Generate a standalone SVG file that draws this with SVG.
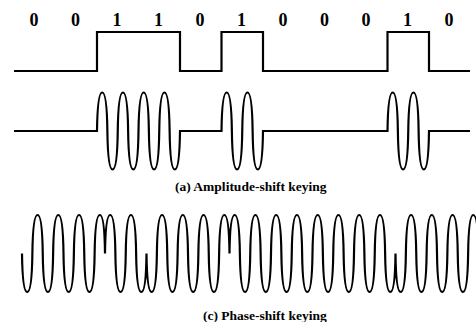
<svg xmlns="http://www.w3.org/2000/svg" width="476" height="322" viewBox="0 0 476 322">
<style>
.bit{font-family:"Liberation Serif","Times New Roman",serif;font-weight:bold;font-size:18px;text-anchor:middle;fill:#000}
.cap{font-family:"Liberation Serif","Times New Roman",serif;font-weight:bold;font-size:13.5px;fill:#000}
.wave{fill:none;stroke:#000;stroke-width:2.2;stroke-linejoin:miter}
</style>
<rect width="476" height="322" fill="#fff"/>
<g id="bits">
<text class="bit" x="34" y="25.5">0</text>
<text class="bit" x="75.5" y="25.5">0</text>
<text class="bit" x="117" y="25.5">1</text>
<text class="bit" x="158.5" y="25.5">1</text>
<text class="bit" x="200" y="25.5">0</text>
<text class="bit" x="241.5" y="25.5">1</text>
<text class="bit" x="283" y="25.5">0</text>
<text class="bit" x="324.5" y="25.5">0</text>
<text class="bit" x="366" y="25.5">0</text>
<text class="bit" x="407.5" y="25.5">1</text>
<text class="bit" x="449" y="25.5">0</text>
</g>
<g id="waves">
<path id="digital" class="wave" d="M14,71 H97 V32 H180 V71 H221.5 V32 H263 V71 H387.5 V32 H429 V71 H470"/>
<path id="ask" class="wave" d="M14,131 H97
c0.3,-23.1 1.6,-38.5 5.1875,-38.5 s4.8875,15.4 5.1875,38.5 s1.6,38.5 5.1875,38.5 s4.8875,-15.4 5.1875,-38.5
s1.6,-38.5 5.1875,-38.5 s4.8875,15.4 5.1875,38.5 s1.6,38.5 5.1875,38.5 s4.8875,-15.4 5.1875,-38.5
s1.6,-38.5 5.1875,-38.5 s4.8875,15.4 5.1875,38.5 s1.6,38.5 5.1875,38.5 s4.8875,-15.4 5.1875,-38.5
s1.6,-38.5 5.1875,-38.5 s4.8875,15.4 5.1875,38.5 s1.6,38.5 5.1875,38.5 s4.8875,-15.4 5.1875,-38.5
H221.5
c0.3,-23.1 1.6,-38.5 5.1875,-38.5 s4.8875,15.4 5.1875,38.5 s1.6,38.5 5.1875,38.5 s4.8875,-15.4 5.1875,-38.5
s1.6,-38.5 5.1875,-38.5 s4.8875,15.4 5.1875,38.5 s1.6,38.5 5.1875,38.5 s4.8875,-15.4 5.1875,-38.5
H387.5
c0.3,-23.1 1.6,-38.5 5.1875,-38.5 s4.8875,15.4 5.1875,38.5 s1.6,38.5 5.1875,38.5 s4.8875,-15.4 5.1875,-38.5
s1.6,-38.5 5.1875,-38.5 s4.8875,15.4 5.1875,38.5 s1.6,38.5 5.1875,38.5 s4.8875,-15.4 5.1875,-38.5
H470"/>
<path id="psk" class="wave" d="M22,253.5
c0.3,23.1 1.6,38.5 5.1875,38.5 s4.8875,-15.4 5.1875,-38.5 s1.6,-38.5 5.1875,-38.5 s4.8875,15.4 5.1875,38.5
s1.6,38.5 5.1875,38.5 s4.8875,-15.4 5.1875,-38.5 s1.6,-38.5 5.1875,-38.5 s4.8875,15.4 5.1875,38.5
s1.6,38.5 5.1875,38.5 s4.8875,-15.4 5.1875,-38.5 s1.6,-38.5 5.1875,-38.5 s4.8875,15.4 5.1875,38.5
s1.6,38.5 5.1875,38.5 s4.8875,-15.4 5.1875,-38.5 s1.6,-38.5 5.1875,-38.5 s4.8875,15.4 5.1875,38.5
c0.3,-23.1 1.6,-38.5 5.1875,-38.5 s4.8875,15.4 5.1875,38.5 s1.6,38.5 5.1875,38.5 s4.8875,-15.4 5.1875,-38.5
s1.6,-38.5 5.1875,-38.5 s4.8875,15.4 5.1875,38.5 s1.6,38.5 5.1875,38.5 s4.8875,-15.4 5.1875,-38.5
c0.3,23.1 1.6,38.5 5.1875,38.5 s4.8875,-15.4 5.1875,-38.5 s1.6,-38.5 5.1875,-38.5 s4.8875,15.4 5.1875,38.5
s1.6,38.5 5.1875,38.5 s4.8875,-15.4 5.1875,-38.5 s1.6,-38.5 5.1875,-38.5 s4.8875,15.4 5.1875,38.5
s1.6,38.5 5.1875,38.5 s4.8875,-15.4 5.1875,-38.5 s1.6,-38.5 5.1875,-38.5 s4.8875,15.4 5.1875,38.5
s1.6,38.5 5.1875,38.5 s4.8875,-15.4 5.1875,-38.5 s1.6,-38.5 5.1875,-38.5 s4.8875,15.4 5.1875,38.5
c0.3,-23.1 1.6,-38.5 5.1875,-38.5 s4.8875,15.4 5.1875,38.5 s1.6,38.5 5.1875,38.5 s4.8875,-15.4 5.1875,-38.5
s1.6,-38.5 5.1875,-38.5 s4.8875,15.4 5.1875,38.5 s1.6,38.5 5.1875,38.5 s4.8875,-15.4 5.1875,-38.5
s1.6,-38.5 5.1875,-38.5 s4.8875,15.4 5.1875,38.5 s1.6,38.5 5.1875,38.5 s4.8875,-15.4 5.1875,-38.5
s1.6,-38.5 5.1875,-38.5 s4.8875,15.4 5.1875,38.5 s1.6,38.5 5.1875,38.5 s4.8875,-15.4 5.1875,-38.5
s1.6,-38.5 5.1875,-38.5 s4.8875,15.4 5.1875,38.5 s1.6,38.5 5.1875,38.5 s4.8875,-15.4 5.1875,-38.5
s1.6,-38.5 5.1875,-38.5 s4.8875,15.4 5.1875,38.5 s1.6,38.5 5.1875,38.5 s4.8875,-15.4 5.1875,-38.5
s1.6,-38.5 5.1875,-38.5 s4.8875,15.4 5.1875,38.5 s1.6,38.5 5.1875,38.5 s4.8875,-15.4 5.1875,-38.5
s1.6,-38.5 5.1875,-38.5 s4.8875,15.4 5.1875,38.5 s1.6,38.5 5.1875,38.5 s4.8875,-15.4 5.1875,-38.5
c0.3,23.1 1.6,38.5 5.1875,38.5 s4.8875,-15.4 5.1875,-38.5 s1.6,-38.5 5.1875,-38.5 s4.8875,15.4 5.1875,38.5
s1.6,38.5 5.1875,38.5 s4.8875,-15.4 5.1875,-38.5 s1.6,-38.5 5.1875,-38.5 s4.8875,15.4 5.1875,38.5
s1.6,38.5 5.1875,38.5 s4.8875,-15.4 5.1875,-38.5 s1.6,-38.5 5.1875,-38.5 s4.8875,15.4 5.1875,38.5
s1.6,38.5 5.1875,38.5 s4.8875,-15.4 5.1875,-38.5 s1.6,-38.5 5.1875,-38.5 s4.8875,15.4 5.1875,38.5"/>
</g>
<g id="labels">
<text id="label-ask" class="cap" x="175" y="190.5">(a) Amplitude-shift keying</text>
<text id="label-psk" class="cap" x="203" y="319.5">(c) Phase-shift keying</text>
</g>
</svg>
